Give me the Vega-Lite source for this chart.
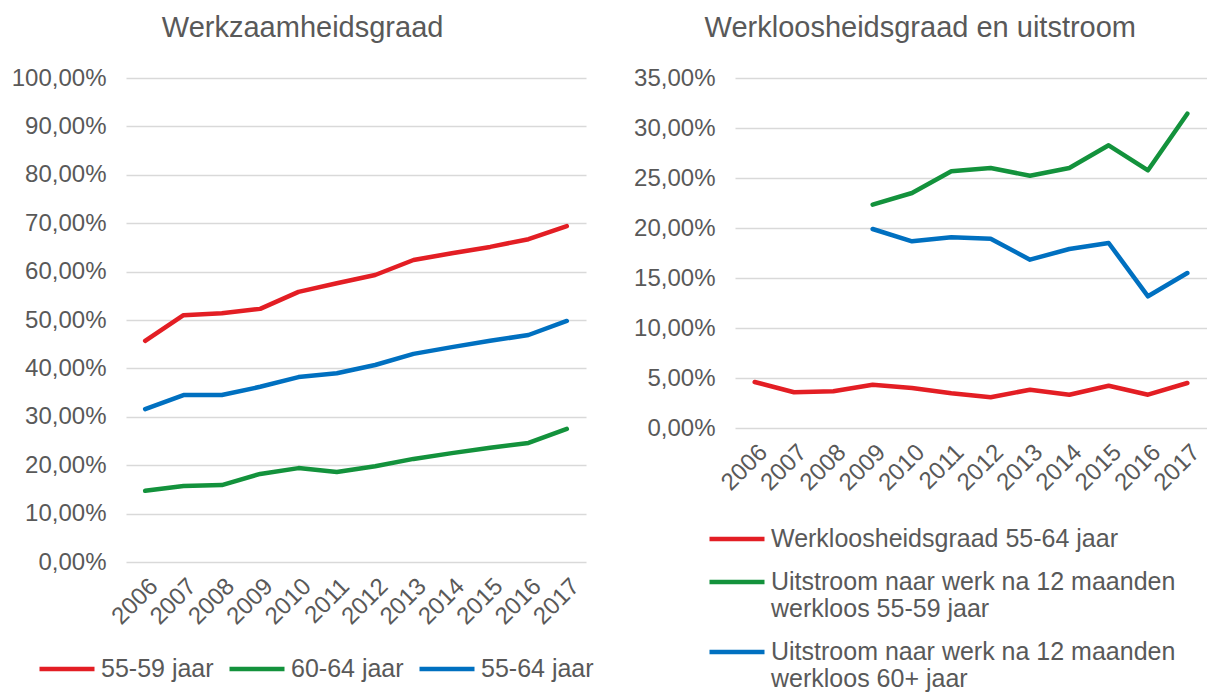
{
  "$schema": "https://vega.github.io/schema/vega-lite/v6.json",
  "background": "white",
  "padding": {"left": 11, "top": 14, "right": 0, "bottom": 0},
  "spacing": 39,
  "resolve": {"scale": {"color": "independent"}, "legend": {"color": "independent"}},
  "config": {
    "font": "Liberation Sans",
    "view": {"stroke": null},
    "axis": {
      "labelFont": "Liberation Sans",
      "labelFontSize": 24,
      "labelColor": "#595959",
      "gridColor": "#d9d9d9",
      "gridWidth": 1.5,
      "domain": false,
      "ticks": false,
      "title": null
    },
    "axisX": {"labelAngle": -45, "grid": false, "labelPadding": 12, "labelAlign": "right", "labelBaseline": "top", "labelDx": -7},
    "axisY": {"labelPadding": 20},
    "title": {"fontSize": 29, "color": "#595959", "fontWeight": "normal", "offset": 23, "font": "Liberation Sans", "frame": "bounds", "anchor": "middle"},
    "legend": {
      "labelFont": "Liberation Sans",
      "labelFontSize": 25,
      "labelColor": "#595959",
      "symbolType": "stroke",
      "symbolSize": 3025,
      "symbolStrokeWidth": 5,
      "labelOffset": 4,
      "title": null,
      "orient": "none",
      "padding": 0,
      "labelLimit": 600
    },
    "line": {"strokeWidth": 4.5, "strokeCap": "round", "strokeJoin": "round"}
  },
  "datasets": {
    "werkzaamheid": [
      {"jaar": 2006, "reeks": "55-59 jaar", "waarde": 0.457},
      {"jaar": 2007, "reeks": "55-59 jaar", "waarde": 0.510},
      {"jaar": 2008, "reeks": "55-59 jaar", "waarde": 0.514},
      {"jaar": 2009, "reeks": "55-59 jaar", "waarde": 0.523},
      {"jaar": 2010, "reeks": "55-59 jaar", "waarde": 0.558},
      {"jaar": 2011, "reeks": "55-59 jaar", "waarde": 0.576},
      {"jaar": 2012, "reeks": "55-59 jaar", "waarde": 0.593},
      {"jaar": 2013, "reeks": "55-59 jaar", "waarde": 0.624},
      {"jaar": 2014, "reeks": "55-59 jaar", "waarde": 0.638},
      {"jaar": 2015, "reeks": "55-59 jaar", "waarde": 0.651},
      {"jaar": 2016, "reeks": "55-59 jaar", "waarde": 0.667},
      {"jaar": 2017, "reeks": "55-59 jaar", "waarde": 0.694},
      {"jaar": 2006, "reeks": "60-64 jaar", "waarde": 0.147},
      {"jaar": 2007, "reeks": "60-64 jaar", "waarde": 0.157},
      {"jaar": 2008, "reeks": "60-64 jaar", "waarde": 0.159},
      {"jaar": 2009, "reeks": "60-64 jaar", "waarde": 0.182},
      {"jaar": 2010, "reeks": "60-64 jaar", "waarde": 0.194},
      {"jaar": 2011, "reeks": "60-64 jaar", "waarde": 0.186},
      {"jaar": 2012, "reeks": "60-64 jaar", "waarde": 0.198},
      {"jaar": 2013, "reeks": "60-64 jaar", "waarde": 0.213},
      {"jaar": 2014, "reeks": "60-64 jaar", "waarde": 0.225},
      {"jaar": 2015, "reeks": "60-64 jaar", "waarde": 0.236},
      {"jaar": 2016, "reeks": "60-64 jaar", "waarde": 0.246},
      {"jaar": 2017, "reeks": "60-64 jaar", "waarde": 0.275},
      {"jaar": 2006, "reeks": "55-64 jaar", "waarde": 0.316},
      {"jaar": 2007, "reeks": "55-64 jaar", "waarde": 0.345},
      {"jaar": 2008, "reeks": "55-64 jaar", "waarde": 0.345},
      {"jaar": 2009, "reeks": "55-64 jaar", "waarde": 0.362},
      {"jaar": 2010, "reeks": "55-64 jaar", "waarde": 0.382},
      {"jaar": 2011, "reeks": "55-64 jaar", "waarde": 0.390},
      {"jaar": 2012, "reeks": "55-64 jaar", "waarde": 0.407},
      {"jaar": 2013, "reeks": "55-64 jaar", "waarde": 0.430},
      {"jaar": 2014, "reeks": "55-64 jaar", "waarde": 0.444},
      {"jaar": 2015, "reeks": "55-64 jaar", "waarde": 0.457},
      {"jaar": 2016, "reeks": "55-64 jaar", "waarde": 0.469},
      {"jaar": 2017, "reeks": "55-64 jaar", "waarde": 0.498}
    ],
    "werkloosheid": [
      {"jaar": 2006, "reeks": "Werkloosheidsgraad 55-64 jaar", "waarde": 0.0460},
      {"jaar": 2007, "reeks": "Werkloosheidsgraad 55-64 jaar", "waarde": 0.0357},
      {"jaar": 2008, "reeks": "Werkloosheidsgraad 55-64 jaar", "waarde": 0.0367},
      {"jaar": 2009, "reeks": "Werkloosheidsgraad 55-64 jaar", "waarde": 0.0433},
      {"jaar": 2010, "reeks": "Werkloosheidsgraad 55-64 jaar", "waarde": 0.0400},
      {"jaar": 2011, "reeks": "Werkloosheidsgraad 55-64 jaar", "waarde": 0.0347},
      {"jaar": 2012, "reeks": "Werkloosheidsgraad 55-64 jaar", "waarde": 0.0307},
      {"jaar": 2013, "reeks": "Werkloosheidsgraad 55-64 jaar", "waarde": 0.0383},
      {"jaar": 2014, "reeks": "Werkloosheidsgraad 55-64 jaar", "waarde": 0.0333},
      {"jaar": 2015, "reeks": "Werkloosheidsgraad 55-64 jaar", "waarde": 0.0423},
      {"jaar": 2016, "reeks": "Werkloosheidsgraad 55-64 jaar", "waarde": 0.0333},
      {"jaar": 2017, "reeks": "Werkloosheidsgraad 55-64 jaar", "waarde": 0.0450},
      {"jaar": 2009, "reeks": "Uitstroom naar werk na 12 maanden werkloos 55-59 jaar", "waarde": 0.2233},
      {"jaar": 2010, "reeks": "Uitstroom naar werk na 12 maanden werkloos 55-59 jaar", "waarde": 0.2350},
      {"jaar": 2011, "reeks": "Uitstroom naar werk na 12 maanden werkloos 55-59 jaar", "waarde": 0.2567},
      {"jaar": 2012, "reeks": "Uitstroom naar werk na 12 maanden werkloos 55-59 jaar", "waarde": 0.2600},
      {"jaar": 2013, "reeks": "Uitstroom naar werk na 12 maanden werkloos 55-59 jaar", "waarde": 0.2523},
      {"jaar": 2014, "reeks": "Uitstroom naar werk na 12 maanden werkloos 55-59 jaar", "waarde": 0.2600},
      {"jaar": 2015, "reeks": "Uitstroom naar werk na 12 maanden werkloos 55-59 jaar", "waarde": 0.2827},
      {"jaar": 2016, "reeks": "Uitstroom naar werk na 12 maanden werkloos 55-59 jaar", "waarde": 0.2577},
      {"jaar": 2017, "reeks": "Uitstroom naar werk na 12 maanden werkloos 55-59 jaar", "waarde": 0.3143},
      {"jaar": 2009, "reeks": "Uitstroom naar werk na 12 maanden werkloos 60+ jaar", "waarde": 0.1990},
      {"jaar": 2010, "reeks": "Uitstroom naar werk na 12 maanden werkloos 60+ jaar", "waarde": 0.1867},
      {"jaar": 2011, "reeks": "Uitstroom naar werk na 12 maanden werkloos 60+ jaar", "waarde": 0.1907},
      {"jaar": 2012, "reeks": "Uitstroom naar werk na 12 maanden werkloos 60+ jaar", "waarde": 0.1893},
      {"jaar": 2013, "reeks": "Uitstroom naar werk na 12 maanden werkloos 60+ jaar", "waarde": 0.1683},
      {"jaar": 2014, "reeks": "Uitstroom naar werk na 12 maanden werkloos 60+ jaar", "waarde": 0.1790},
      {"jaar": 2015, "reeks": "Uitstroom naar werk na 12 maanden werkloos 60+ jaar", "waarde": 0.1850},
      {"jaar": 2016, "reeks": "Uitstroom naar werk na 12 maanden werkloos 60+ jaar", "waarde": 0.1317},
      {"jaar": 2017, "reeks": "Uitstroom naar werk na 12 maanden werkloos 60+ jaar", "waarde": 0.1550}
    ]
  },
  "hconcat": [
    {
      "width": 460,
      "height": 484,
      "title": "Werkzaamheidsgraad",
      "data": {"name": "werkzaamheid"},
      "mark": {"type": "line"},
      "encoding": {
        "x": {"field": "jaar", "type": "ordinal"},
        "y": {
          "field": "waarde",
          "type": "quantitative",
          "scale": {"domain": [0, 1]},
          "axis": {
            "values": [0, 0.1, 0.2, 0.3, 0.4, 0.5, 0.6, 0.7, 0.8, 0.9, 1],
            "labelExpr": "replace(format(datum.value, '.2%'), '.', ',')"
          }
        },
        "color": {
          "field": "reeks",
          "type": "nominal",
          "scale": {
            "domain": ["55-59 jaar", "60-64 jaar", "55-64 jaar"],
            "range": ["#e31e24", "#13923c", "#0070c0"]
          },
          "legend": {"direction": "horizontal", "legendX": -89, "legendY": 561, "columnPadding": 13}
        }
      }
    },
    {
      "width": 472,
      "height": 350,
      "title": "Werkloosheidsgraad en uitstroom",
      "data": {"name": "werkloosheid"},
      "mark": {"type": "line"},
      "encoding": {
        "x": {"field": "jaar", "type": "ordinal"},
        "y": {
          "field": "waarde",
          "type": "quantitative",
          "scale": {"domain": [0, 0.35]},
          "axis": {
            "values": [0, 0.05, 0.1, 0.15, 0.2, 0.25, 0.3, 0.35],
            "labelExpr": "replace(format(datum.value, '.2%'), '.', ',')"
          }
        },
        "color": {
          "field": "reeks",
          "type": "nominal",
          "scale": {
            "domain": [
              "Werkloosheidsgraad 55-64 jaar",
              "Uitstroom naar werk na 12 maanden werkloos 55-59 jaar",
              "Uitstroom naar werk na 12 maanden werkloos 60+ jaar"
            ],
            "range": ["#e31e24", "#13923c", "#0070c0"]
          },
          "legend": {
            "direction": "vertical",
            "legendX": -28,
            "legendY": 431,
            "rowPadding": 0,
            "labelExpr": "datum.label == 'Werkloosheidsgraad 55-64 jaar' ? datum.label : [substring(datum.label, 0, 33), substring(datum.label, 34)]"
          }
        }
      }
    }
  ]
}
